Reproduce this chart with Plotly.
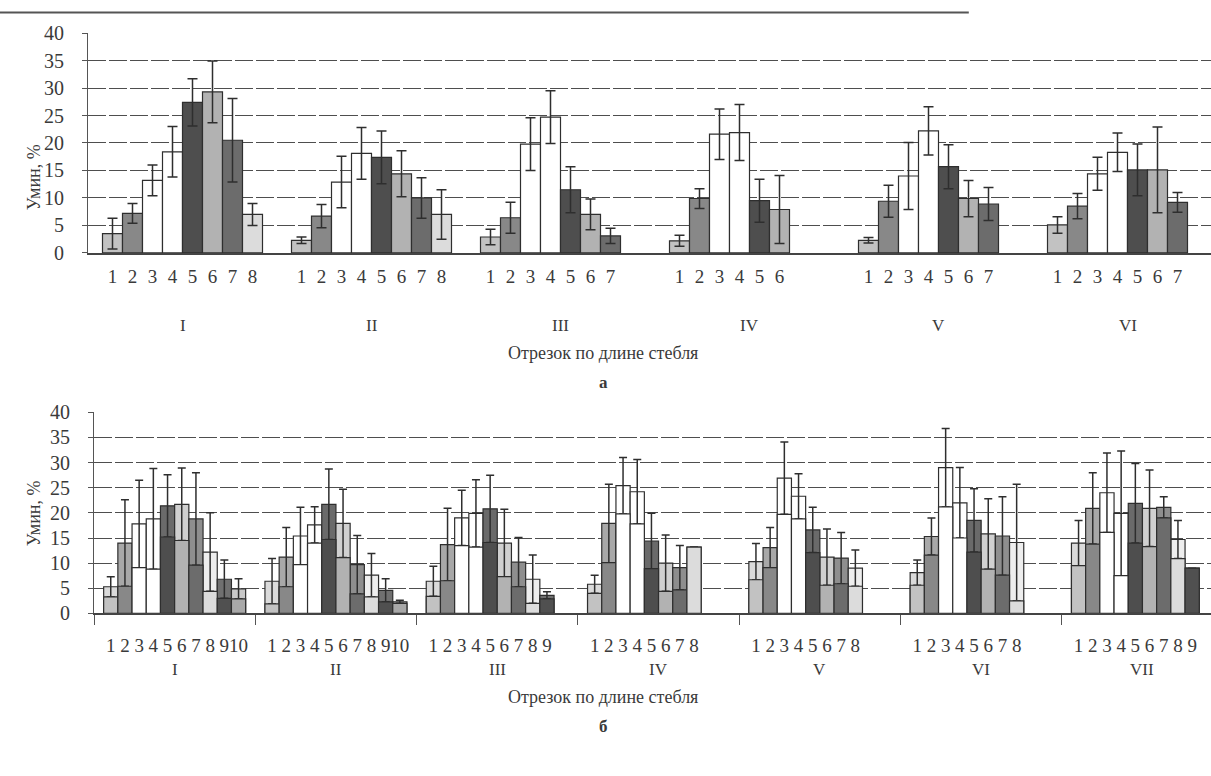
import plotly.graph_objects as go

# ---------------- data: chart "а" ----------------
groups_a = ["I", "II", "III", "IV", "V", "VI"]
vals_a = [
    [3.5, 7.2, 13.2, 18.4, 27.4, 29.3, 20.5, 7.0],
    [2.3, 6.7, 12.9, 18.1, 17.4, 14.4, 10.0, 7.0],
    [2.9, 6.4, 19.8, 24.7, 11.5, 7.0, 3.1],
    [2.2, 9.9, 21.6, 21.9, 9.5, 7.9],
    [2.3, 9.4, 14.0, 22.2, 15.7, 9.9, 8.9],
    [5.1, 8.5, 14.4, 18.3, 15.1, 15.1, 9.2],
]
err_a = [
    [2.8, 1.8, 2.8, 4.6, 4.3, 5.6, 7.6, 2.0],
    [0.6, 2.1, 4.7, 4.7, 4.8, 4.2, 3.7, 4.5],
    [1.4, 2.8, 4.8, 4.8, 4.2, 2.8, 1.4],
    [1.0, 1.8, 4.6, 5.1, 3.9, 6.2],
    [0.5, 2.9, 6.1, 4.4, 4.0, 3.3, 3.0],
    [1.5, 2.3, 3.0, 3.5, 4.7, 7.8, 1.8],
]

# ---------------- data: chart "б" ----------------
groups_b = ["I", "II", "III", "IV", "V", "VI", "VII"]
vals_b = [
    [5.3, 14.0, 17.8, 18.8, 21.4, 21.7, 18.8, 12.2, 6.8, 4.9],
    [6.4, 11.2, 15.4, 17.6, 21.7, 17.9, 9.7, 7.6, 4.6, 2.3],
    [6.4, 13.7, 19.0, 19.9, 20.8, 14.0, 10.2, 6.8, 3.6],
    [5.8, 17.9, 25.4, 24.2, 14.4, 10.0, 9.1, 13.2],
    [10.3, 13.1, 26.9, 23.3, 16.6, 11.2, 11.0, 9.0],
    [8.1, 15.3, 29.0, 22.0, 18.5, 15.8, 15.4, 14.1],
    [14.0, 20.9, 24.0, 19.9, 21.9, 20.9, 21.1, 14.7, 9.0],
]
err_b = [
    [2.0, 8.6, 8.7, 10.0, 6.2, 7.2, 9.2, 7.8, 3.8, 2.0],
    [4.5, 5.9, 5.7, 3.6, 7.0, 6.8, 5.8, 4.3, 2.3, 0.3],
    [3.0, 7.2, 5.5, 6.7, 6.7, 6.7, 4.9, 4.8, 0.7],
    [1.8, 7.8, 5.6, 6.4, 5.5, 5.6, 4.4, 0.0],
    [3.6, 4.0, 7.2, 4.5, 4.5, 5.6, 5.1, 3.6],
    [2.5, 3.7, 7.8, 7.0, 6.3, 7.0, 7.8, 11.6],
    [4.5, 7.1, 7.9, 12.4, 7.9, 7.6, 2.1, 3.8, 0.0],
]

y_ticks = [0, 5, 10, 15, 20, 25, 30, 35, 40]
title_y = "Умин, %"
title_x = "Отрезок по длине стебля"

# fill colours by position of bar inside a group
slot_colors = ["#c2c2c2", "#888888", "#ffffff", "#ffffff", "#4e4e4e",
               "#b2b2b2", "#6c6c6c", "#dcdcdc", "#505050", "#a8a8a8"]
slot_colors_light = ["#dadada", "#a8a8a8", "#ffffff", "#ffffff", "#6a6a6a",
                     "#d0d0d0", "#8e8e8e", "#eeeeee", "#707070", "#c8c8c8"]

FONT = "Liberation Serif"
TXT = "#3a3a3a"
LINE = "#2e2e2e"
W, H = 1211, 776

# slot widths in category units (one category = 1)
nslot_a, nslot_b = 8, 10
w_a = 20.0 / 189.0
w_b = 14.2 / 161.3

xa, ya, ea, ca, la = [], [], [], [], []
for g, (vs, es) in enumerate(zip(vals_a, err_a)):
    for j, (v, e) in enumerate(zip(vs, es)):
        xa.append(g + (j - (nslot_a - 1) / 2) * w_a)
        ya.append(v)
        ea.append(e)
        ca.append(slot_colors[j])
        la.append(str(j + 1))

xb, yb, eb, cb, cbl, lb, lowb = [], [], [], [], [], [], []
for g, (vs, es) in enumerate(zip(vals_b, err_b)):
    for j, (v, e) in enumerate(zip(vs, es)):
        xb.append(g + (j - (nslot_b - 1) / 2) * w_b)
        yb.append(v)
        eb.append(e)
        cb.append(slot_colors[j])
        cbl.append(slot_colors_light[j])
        lb.append(str(j + 1))
        lowb.append(max(v - e, 0))

fig = go.Figure()

fig.add_trace(go.Bar(
    x=xa, y=ya, width=w_a, xaxis="x", yaxis="y",
    marker=dict(color=ca, line=dict(color=LINE, width=1.2)),
    error_y=dict(type="data", array=ea, visible=True, color=LINE,
                 thickness=1.5, width=5),
    showlegend=False, hoverinfo="skip"))

fig.add_trace(go.Bar(
    x=xb, y=yb, width=w_b, xaxis="x2", yaxis="y2",
    marker=dict(color=cbl, line=dict(color=LINE, width=1.2)),
    error_y=dict(type="data", array=eb, visible=True, color=LINE,
                 thickness=1.5, width=4),
    showlegend=False, hoverinfo="skip"))

fig.add_trace(go.Bar(
    x=xb, y=lowb, width=w_b, xaxis="x2", yaxis="y2",
    marker=dict(color=cb, line=dict(color=LINE, width=1.2)),
    showlegend=False, hoverinfo="skip"))

# domains in paper units
ax_a = dict(l=88 / W, b=1 - 249 / H, t=1 - 22.7 / H)
ax_b = dict(l=94 / W, b=1 - 620 / H, t=1 - 413 / H)

grid = dict(showgrid=True, gridcolor="#4e4e4e", gridwidth=1.3, griddash="18px,3px")

fig.update_layout(
    width=W, height=H,
    margin=dict(l=0, r=0, t=0, b=0),
    paper_bgcolor="white", plot_bgcolor="white",
    barmode="overlay",
    font=dict(family=FONT, color=TXT, size=18),
    xaxis=dict(domain=[ax_a["l"], 1], anchor="y",
               range=[-0.5, -0.5 + (W - 88) / 189.0],
               tickmode="array", tickvals=xa, ticktext=la, tickangle=0,
               ticks="", showgrid=False, zeroline=False,
               showline=True, linecolor="#444", linewidth=1.5,
               tickfont=dict(size=19, family=FONT, color=TXT),
               ticklabelstandoff=6),
    yaxis=dict(domain=[ax_a["b"], ax_a["t"]], anchor="x",
               range=[0, 40], tickvals=y_ticks, zeroline=False,
               showline=True, linecolor="#555", linewidth=1,
               ticks="outside", ticklen=5, tickcolor="#555",
               tickfont=dict(size=20, family=FONT, color=TXT),
               ticklabelstandoff=14, **grid),
    xaxis2=dict(domain=[ax_b["l"], 1], anchor="y2",
                range=[-0.5, -0.5 + (W - 94) / 161.3],
                tickmode="array", tickvals=xb, ticktext=lb, tickangle=0,
                ticks="", showgrid=False, zeroline=False,
                showline=True, linecolor="#444", linewidth=1.5,
                tickfont=dict(size=19, family=FONT, color=TXT),
                ticklabelstandoff=14,
                minor=dict(tickmode="array",
                           tickvals=[g - 0.5 for g in range(len(groups_b) + 1)],
                           ticks="outside", ticklen=10, tickcolor="#555",
                           tickwidth=1, showgrid=False)),
    yaxis2=dict(domain=[ax_b["b"], ax_b["t"]], anchor="x2",
                range=[0, 40], tickvals=y_ticks, zeroline=False,
                showline=True, linecolor="#555", linewidth=1,
                ticks="outside", ticklen=5, tickcolor="#555",
                tickfont=dict(size=20, family=FONT, color=TXT),
                ticklabelstandoff=14, **grid),
)

ann = []
for g, name in enumerate(groups_a):
    ann.append(dict(x=g, xref="x", y=1 - 324 / H, yref="paper", text=name,
                    showarrow=False, font=dict(size=17)))
for g, name in enumerate(groups_b):
    ann.append(dict(x=g, xref="x2", y=1 - 690 / H, yref="paper", text=name,
                    showarrow=False, font=dict(size=17)))
for yc in (352, 718):
    ann.append(dict(x=603 / W, xref="paper", y=1 - yc / H, yref="paper",
                    text=title_x, showarrow=False, font=dict(size=18)))
for yc in (135, 517):
    ann.append(dict(x=22 / W, xref="paper", y=1 - yc / H, yref="paper",
                    text=title_y, textangle=-90, showarrow=False,
                    font=dict(size=18)))
ann.append(dict(x=603 / W, xref="paper", y=1 - 382 / H, yref="paper",
                text="<b>а</b>", showarrow=False, font=dict(size=17)))
ann.append(dict(x=603 / W, xref="paper", y=1 - 748 / H, yref="paper",
                text="<b>б</b>", showarrow=False, font=dict(size=17)))
fig.update_layout(annotations=ann)

fig.add_shape(type="line", xref="paper", yref="paper",
              x0=0, x1=0.8, y0=1 - 1.5 / H, y1=1 - 1.5 / H,
              line=dict(color="#555", width=2))

fig.write_html("out.html")
